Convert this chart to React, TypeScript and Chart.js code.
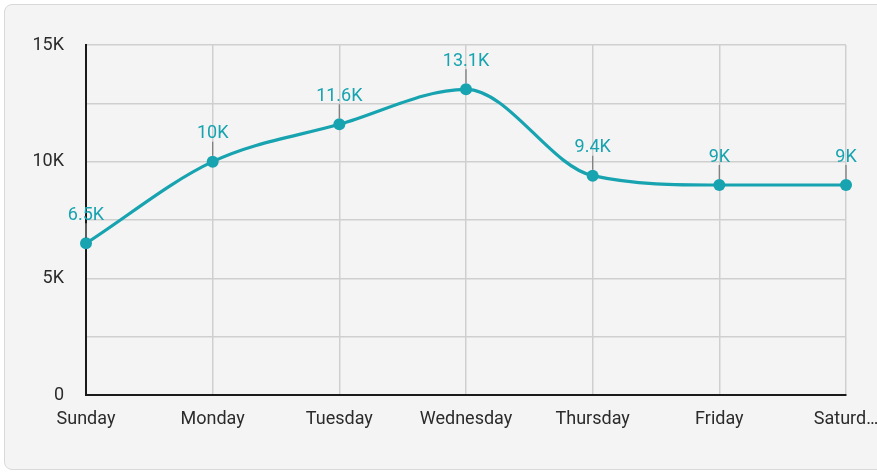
import { useEffect, useRef } from 'react';
import { Chart, registerables } from 'chart.js';

Chart.register(...registerables);

// Weekly visits
const days = ['Sunday', 'Monday', 'Tuesday', 'Wednesday', 'Thursday', 'Friday', 'Saturday'];
const visits = [6500, 10000, 11600, 13100, 9400, 9000, 9000];

// Value axis
const yMin = 0;
const yMax = 15000;
const yGridStep = 2500;
const yLabelStep = 5000;

const TEAL = '#17a3b0';
const FONT = 'Roboto, "Noto Sans", sans-serif';

const formatK = (v: number) => (v === 0 ? '0' : `${+(v / 1000).toFixed(1)}K`);

// Value labels above each point, with a short leader line
const valueLabels = {
  id: 'valueLabels',
  afterDatasetsDraw(chart: any) {
    const { ctx } = chart;
    const meta = chart.getDatasetMeta(0);
    ctx.save();
    meta.data.forEach((pt: any, i: number) => {
      const { x, y } = pt.getProps(['x', 'y'], true);
      ctx.strokeStyle = '#808080';
      ctx.lineWidth = 1.3;
      ctx.beginPath();
      ctx.moveTo(x, y - 6);
      ctx.lineTo(x, y - 20);
      ctx.stroke();
      ctx.fillStyle = TEAL;
      ctx.font = `18px ${FONT}`;
      ctx.textAlign = 'center';
      ctx.textBaseline = 'middle';
      ctx.fillText(formatK(visits[i]), x, y - 28);
    });
    ctx.restore();
  },
};

export default function App() {
  const canvasRef = useRef<HTMLCanvasElement | null>(null);

  useEffect(() => {
    if (!canvasRef.current) return;
    const chart = new Chart(canvasRef.current, {
      type: 'line',
      data: {
        labels: days,
        datasets: [
          {
            data: visits,
            borderColor: TEAL,
            backgroundColor: TEAL,
            borderWidth: 3.2,
            pointRadius: 6,
            pointBackgroundColor: TEAL,
            pointBorderWidth: 0,
            cubicInterpolationMode: 'monotone',
            clip: false,
          },
        ],
      },
      options: {
        responsive: false,
        animation: false,
        layout: { padding: { top: 45, right: 31, left: 0, bottom: 0 } },
        plugins: { legend: { display: false }, tooltip: { enabled: false } },
        scales: {
          x: {
            grid: { color: '#cfcfcf', lineWidth: 1.5, drawTicks: false },
            border: { color: '#1a1a1a', width: 2 },
            ticks: {
              padding: 14,
              color: '#2b2b2b',
              font: { family: FONT, size: 18 },
              maxRotation: 0,
              autoSkip: false,
              callback: (_v: any, i: number) => {
                const s = days[i];
                return i === days.length - 1 && s.length > 6 ? s.slice(0, 6) + '…' : s;
              },
            },
            afterFit: (scale: any) => {
              scale.height = 78;
              scale.paddingLeft = 0;
              scale.paddingRight = 0;
            },
          },
          y: {
            min: yMin,
            max: yMax,
            grid: { color: '#cfcfcf', lineWidth: 1.5, drawTicks: false },
            border: { color: '#1a1a1a', width: 2 },
            ticks: {
              stepSize: yGridStep,
              padding: 22,
              color: '#2b2b2b',
              font: { family: FONT, size: 18 },
              callback: (v: any) => (Number(v) % yLabelStep === 0 ? formatK(Number(v)) : ''),
            },
            afterFit: (scale: any) => {
              scale.width = 86;
              scale.paddingTop = 0;
              scale.paddingBottom = 0;
            },
          },
        },
      },
      plugins: [valueLabels],
    });
    return () => chart.destroy();
  }, []);

  return (
    <div style={{ position: 'fixed', left: 0, top: 0, width: 877, height: 473, background: '#fff', overflow: 'hidden' }}>
      <div
        style={{
          position: 'absolute',
          left: 4,
          top: 4,
          width: 890,
          height: 466,
          border: '1.5px solid #d9d9d9',
          borderRadius: 8,
          background: '#f4f4f4',
          boxSizing: 'border-box',
        }}
      />
      <canvas ref={canvasRef} width={877} height={473} style={{ position: 'absolute', left: 0, top: 0 }} />
    </div>
  );
}
